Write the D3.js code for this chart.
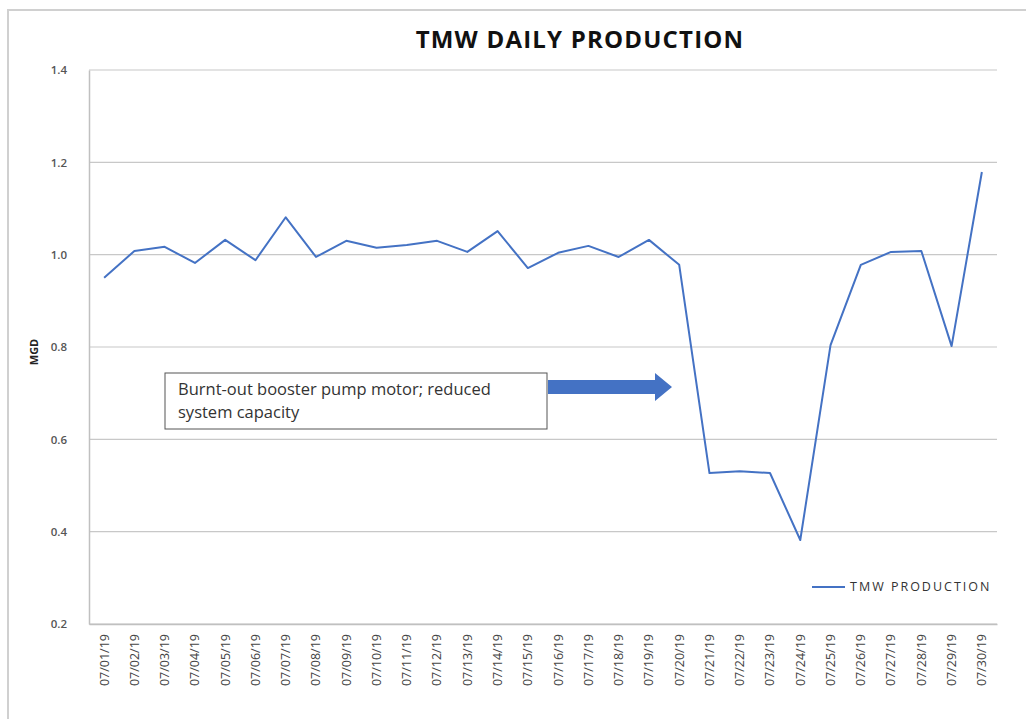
<!DOCTYPE html>
<html>
<head>
<meta charset="utf-8">
<script src="https://cdn.jsdelivr.net/npm/d3@7"></script>
<style>
  body { margin: 0; background: #fff; }
  text { font-family: "Open Sans", "Liberation Sans", sans-serif; }
</style>
</head>
<body>
<div id="chart"></div>
<script>
var dates = ['07/01/19','07/02/19','07/03/19','07/04/19','07/05/19','07/06/19','07/07/19','07/08/19',
  '07/09/19','07/10/19','07/11/19','07/12/19','07/13/19','07/14/19','07/15/19','07/16/19',
  '07/17/19','07/18/19','07/19/19','07/20/19','07/21/19','07/22/19','07/23/19','07/24/19',
  '07/25/19','07/26/19','07/27/19','07/28/19','07/29/19','07/30/19'];
var production = [0.95, 1.008, 1.017, 0.982, 1.032, 0.988, 1.081, 0.995,
  1.03, 1.015, 1.021, 1.03, 1.006, 1.051, 0.971, 1.004,
  1.019, 0.995, 1.032, 0.978, 0.527, 0.531, 0.527, 0.382,
  0.804, 0.978, 1.006, 1.008, 0.802, 1.179];
var yTicks = [0.2, 0.4, 0.6, 0.8, 1.0, 1.2, 1.4];
var seriesName = 'TMW PRODUCTION';
var noteText = ['Burnt-out booster pump motor; reduced', 'system capacity'];

var W = 1026, H = 719;
var margin = {top: 70, right: 29, bottom: 95, left: 89};
var width = W - margin.left - margin.right,
    height = H - margin.top - margin.bottom;
var blue = '#4472c4';

var svg = d3.select('#chart').append('svg')
    .attr('width', W)
    .attr('height', H);

// outer chart frame (right and bottom edges fall outside the picture)
svg.append('rect')
    .attr('x', 8).attr('y', 10)
    .attr('width', 1040).attr('height', 740)
    .attr('fill', 'none')
    .attr('stroke', '#d0d0d0')
    .attr('stroke-width', 2);

svg.append('text')
    .attr('x', 580).attr('y', 48)
    .attr('text-anchor', 'middle')
    .attr('font-size', 24)
    .attr('font-weight', 'bold')
    .attr('letter-spacing', 1.2)
    .attr('fill', '#111')
    .text('TMW DAILY PRODUCTION');

var g = svg.append('g')
    .attr('transform', 'translate(' + margin.left + ',' + margin.top + ')');

var x = d3.scaleBand().domain(dates).range([0, width]);
var y = d3.scaleLinear().domain([0.2, 1.4]).range([height, 0]);

// gridlines
g.selectAll('.grid').data(yTicks).enter().append('line')
    .attr('class', 'grid')
    .attr('x1', 0).attr('x2', width)
    .attr('y1', function(d) { return y(d); })
    .attr('y2', function(d) { return y(d); })
    .attr('stroke', '#c8c8c8')
    .attr('stroke-width', 1.2);

var yAxis = g.append('g')
    .call(d3.axisLeft(y).tickValues(yTicks).tickFormat(d3.format('.1f')).tickSize(0).tickPadding(22));
yAxis.select('.domain').attr('stroke', '#c0c0c0').attr('stroke-width', 1.5);
yAxis.selectAll('text').attr('font-size', 11.5).attr('font-weight', 600).attr('fill', '#555');

var xAxis = g.append('g')
    .attr('transform', 'translate(0,' + height + ')')
    .call(d3.axisBottom(x).tickSize(0).tickSizeOuter(0));
xAxis.select('.domain').attr('stroke', '#c0c0c0').attr('stroke-width', 1.5);
xAxis.selectAll('text')
    .attr('font-size', 12.5)
    .attr('fill', '#444')
    .attr('transform', 'rotate(-90)')
    .attr('text-anchor', 'end')
    .attr('dx', '-10')
    .attr('dy', '0.35em')
    .attr('y', 0);

svg.append('text')
    .attr('transform', 'translate(38,352) rotate(-90)')
    .attr('text-anchor', 'middle')
    .attr('font-size', 11)
    .attr('font-weight', 'bold')
    .attr('fill', '#222')
    .text('MGD');

var line = d3.line()
    .x(function(d, i) { return x(dates[i]) + x.bandwidth() / 2; })
    .y(function(d) { return y(d); });

g.append('path')
    .datum(production)
    .attr('d', line)
    .attr('fill', 'none')
    .attr('stroke', blue)
    .attr('stroke-width', 2)
    .attr('stroke-linejoin', 'round');

// annotation
var note = svg.append('g');
note.append('rect')
    .attr('x', 165).attr('y', 373)
    .attr('width', 382).attr('height', 56)
    .attr('fill', '#fff')
    .attr('stroke', '#555')
    .attr('stroke-width', 1);
note.selectAll('text').data(noteText).enter().append('text')
    .attr('x', 178)
    .attr('y', function(d, i) { return 395 + i * 23; })
    .attr('font-size', 16.5)
    .attr('fill', '#333')
    .text(function(d) { return d; });

note.append('path')
    .attr('d', 'M548,380 L655,380 L655,373 L672,387 L655,401 L655,394 L548,394 Z')
    .attr('fill', blue);

// legend
var legend = svg.append('g').attr('transform', 'translate(812,587)');
legend.append('line')
    .attr('x1', 0).attr('x2', 33)
    .attr('stroke', blue).attr('stroke-width', 2);
legend.append('text')
    .attr('x', 38).attr('dy', '0.35em')
    .attr('font-size', 12.5)
    .attr('letter-spacing', 2)
    .attr('fill', '#333')
    .text(seriesName);
</script>
</body>
</html>
